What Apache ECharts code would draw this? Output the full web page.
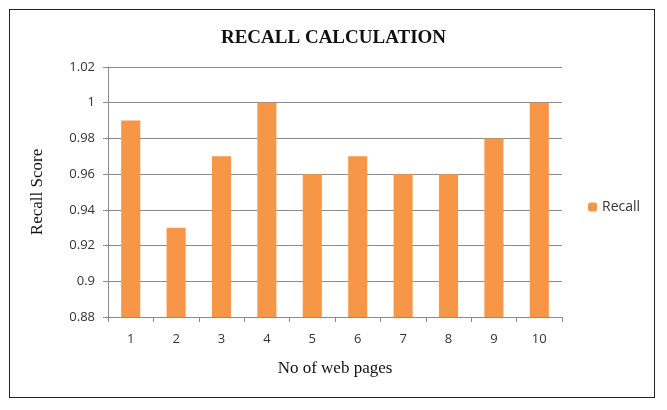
<!DOCTYPE html>
<html>
<head>
<meta charset="utf-8">
<script src="https://cdn.jsdelivr.net/npm/echarts@6/dist/echarts.min.js"></script>
<style>
  html, body { margin: 0; padding: 0; background: #fff; }
  #main { width: 667px; height: 410px; position: relative; }
  #frame { position: absolute; left: 9px; top: 9px; width: 646px; height: 389px; border: 1.5px solid #222; box-sizing: border-box; pointer-events: none; }
</style>
</head>
<body>
<div id="main"></div>
<div id="frame"></div>
<script>
 // data
 var pages = ['1', '2', '3', '4', '5', '6', '7', '8', '9', '10'];
 var recall = [0.99, 0.93, 0.97, 1, 0.96, 0.97, 0.96, 0.96, 0.98, 1];
 var yMin = 0.88, yMax = 1.02, yStep = 0.02;

 var myChart = echarts.init(document.getElementById('main'));

 var option = {
     animation: false,
     title: {
         text: 'RECALL CALCULATION',
         left: 'center',
         top: 24,
         textStyle: { fontFamily: 'Liberation Serif', fontWeight: 'bold', fontSize: 19, color: '#111' }
     },
     legend: {
         data: ['Recall'],
         orient: 'vertical',
         left: 583,
         top: 195,
         itemWidth: 9,
         itemHeight: 9,
         itemGap: 4,
         textStyle: { fontFamily: 'Open Sans', fontSize: 14, color: '#333' }
     },
     grid: { left: 108, right: 105, top: 67, bottom: 93 },
     xAxis: {
         type: 'category',
         data: pages,
         name: 'No of web pages',
         nameLocation: 'middle',
         nameGap: 43,
         nameTextStyle: { fontFamily: 'Liberation Serif', fontSize: 17, color: '#111' },
         axisLine: { lineStyle: { color: '#8c8c8c' } },
         axisTick: { show: true, length: 5, lineStyle: { color: '#8c8c8c' } },
         axisLabel: { margin: 16, fontFamily: 'Open Sans', fontSize: 13, color: '#333' }
     },
     yAxis: {
         type: 'value',
         min: yMin,
         max: yMax,
         interval: yStep,
         name: 'Recall Score',
         nameLocation: 'middle',
         nameGap: 62,
         nameTextStyle: { fontFamily: 'Liberation Serif', fontSize: 17, color: '#111' },
         axisLine: { show: true, lineStyle: { color: '#8c8c8c' } },
         axisTick: { show: true, length: 5, lineStyle: { color: '#8c8c8c' } },
         splitLine: { lineStyle: { color: '#8c8c8c' } },
         axisLabel: {
             margin: 13,
             fontFamily: 'Open Sans', fontSize: 13, color: '#333',
             formatter: function (v) { return String(parseFloat(v.toFixed(2))); }
         }
     },
     series: [{
         name: 'Recall',
         type: 'bar',
         data: recall,
         barWidth: '42%',
         itemStyle: { color: '#F79646' }
     }]
 };

 myChart.setOption(option);
</script>
</body>
</html>
